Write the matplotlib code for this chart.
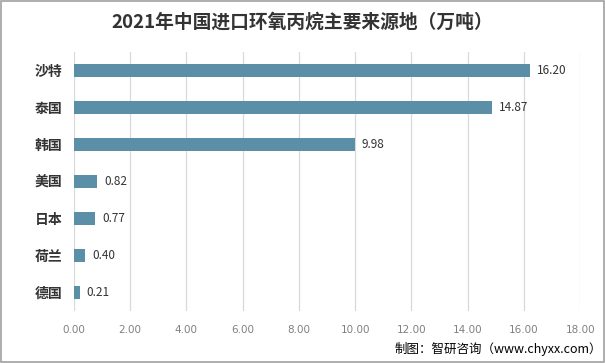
import matplotlib
matplotlib.use("Agg")
import matplotlib.pyplot as plt
from matplotlib.patches import Rectangle

plt.rcParams['font.family'] = ['Noto Sans CJK SC', 'DejaVu Sans']

countries = ['沙特', '泰国', '韩国', '美国', '日本', '荷兰', '德国']
values = [16.20, 14.87, 9.98, 0.82, 0.77, 0.40, 0.21]
xticks = [0, 2, 4, 6, 8, 10, 12, 14, 16, 18]

title = '2021年中国进口环氧丙烷主要来源地（万吨）'
source = '制图：智研咨询（www.chyxx.com）'

fig = plt.figure(figsize=(6.05, 3.63), dpi=100)
ax = fig.add_axes([0.122, 0.143, 0.837, 0.714])

y = list(range(len(countries)))
ax.barh(y, values, height=0.36, color='#5b8fa8', zorder=3)
for yi, v in zip(y, values):
    ax.text(v + 0.25, yi, f'{v:.2f}', va='center', ha='left',
            fontsize=8.5, color='#333333')

ax.set_xlim(0, 18)
ax.set_ylim(len(countries) - 0.5, -0.5)
ax.set_xticks(xticks)
ax.set_xticklabels([f'{t:.2f}' for t in xticks], fontsize=7.5, color='#808080',
                   family='DejaVu Sans')
ax.set_yticks(y)
ax.set_yticklabels(countries, fontsize=10, fontweight='bold', color='#333333')
ax.tick_params(axis='both', length=0, pad=10)
ax.tick_params(axis='y', pad=8)
ax.grid(axis='x', color='#d9d9d9', linewidth=0.9, zorder=0)
for s in ax.spines.values():
    s.set_visible(False)

fig.text(0.5, 0.94, title, ha='center', va='center', fontsize=13.5,
         fontweight='bold', color='#333333')
fig.text(0.995, 0.04, source, ha='right', va='center', fontsize=9, color='#000000')

fig.add_artist(Rectangle((0.001, 0.002), 0.997, 0.995, transform=fig.transFigure,
                         fill=False, edgecolor='#a0a0a0', linewidth=1.2))

fig.savefig('out.png', dpi=100)
